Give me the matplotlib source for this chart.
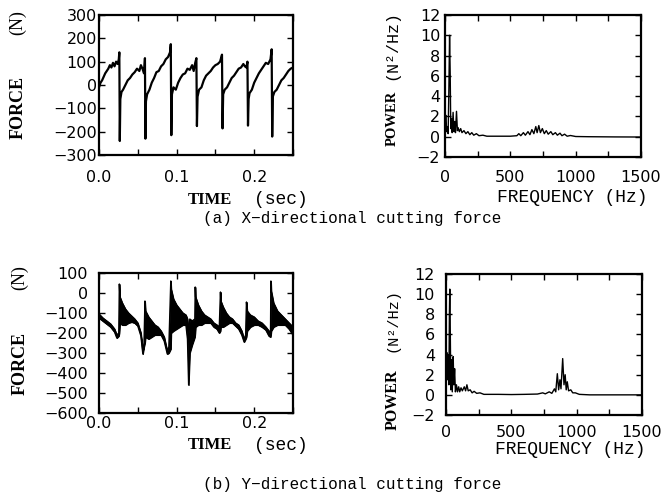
import matplotlib
matplotlib.use("Agg")
import matplotlib.pyplot as plt

# ---- X-directional cutting force (time signal), vertices
time_x = [0.000, 0.002, 0.004, 0.006, 0.008, 0.010, 0.012, 0.014, 0.016, 0.018,
          0.020, 0.022, 0.024, 0.0255, 0.0262, 0.0268, 0.0275, 0.029, 0.031, 0.034,
          0.037, 0.040, 0.043, 0.046, 0.049, 0.052, 0.054, 0.056, 0.058, 0.0592,
          0.0598, 0.0605, 0.062, 0.065, 0.068, 0.071, 0.074, 0.077, 0.080, 0.083,
          0.086, 0.089, 0.0915, 0.0925, 0.0932, 0.094, 0.096, 0.099, 0.102, 0.105,
          0.108, 0.111, 0.114, 0.117, 0.120, 0.122, 0.124, 0.1255, 0.1262, 0.127,
          0.129, 0.132, 0.135, 0.138, 0.141, 0.144, 0.147, 0.150, 0.153, 0.156,
          0.1585, 0.1592, 0.160, 0.162, 0.165, 0.168, 0.171, 0.174, 0.177, 0.180,
          0.183, 0.186, 0.188, 0.190, 0.1913, 0.192, 0.1928, 0.194, 0.197, 0.200,
          0.203, 0.206, 0.209, 0.212, 0.215, 0.218, 0.221, 0.2225, 0.2232, 0.224,
          0.226, 0.229, 0.232, 0.235, 0.238, 0.241, 0.244, 0.247, 0.250]
force_x = [-10, 10, 20, 35, 50, 60, 70, 85, 75, 95,
           80, 100, 90, 110, 140, -240, -60, -30, -20, 0,
           20, 30, 45, 55, 70, 60, 85, 70, 50, 115,
           -230, -70, -40, -20, 10, 30, 55, 60, 80, 90,
           110, 120, 140, 175, -215, -40, -10, -20, 10, 30,
           45, 50, 70, 65, 85, 60, 95, 115, -176, -50,
           -20, -10, 20, 40, 50, 60, 75, 85, 90, 100,
           130, -186, -40, -20, -10, 10, 30, 40, 55, 70,
           75, 90, 80, 75, 100, -174, -60, -35, -20, 10,
           30, 50, 65, 80, 95, 90, 110, 153, -221, -50,
           -30, -20, 0, 20, 30, 45, 60, 70, 75]

# ---- Y-directional cutting force: upper / lower envelope of the signal band
time_y = [0.000, 0.005, 0.010, 0.015, 0.020, 0.023, 0.0255, 0.0262, 0.0270, 0.030,
          0.034, 0.038, 0.042, 0.046, 0.050, 0.054, 0.0565, 0.058, 0.0592, 0.060,
          0.064, 0.068, 0.072, 0.076, 0.080, 0.084, 0.088, 0.090, 0.0925, 0.093,
          0.096, 0.100, 0.104, 0.108, 0.112, 0.114, 0.1155, 0.117, 0.120, 0.1235,
          0.124, 0.1245, 0.128, 0.132, 0.136, 0.140, 0.144, 0.148, 0.152, 0.155,
          0.1565, 0.157, 0.160, 0.164, 0.168, 0.172, 0.176, 0.180, 0.184, 0.187,
          0.189, 0.190, 0.191, 0.195, 0.200, 0.205, 0.210, 0.215, 0.219, 0.221,
          0.2215, 0.222, 0.225, 0.230, 0.235, 0.240, 0.245, 0.250]
force_y_upper = [-105, -125, -140, -155, -180, -210, -200, 45, -20, -50,
                 -80, -100, -115, -130, -150, -200, -290, -250, -40, -90,
                 -120, -140, -160, -170, -190, -220, -290, -270, 60, 20,
                 -30, -60, -80, -100, -110, -130, -200, -130, -140, -130,
                 30, -20, -60, -90, -110, -120, -130, -150, -160, -170,
                 5, -40, -70, -100, -120, -130, -150, -160, -190, -230,
                 -210, -45, -90, -110, -120, -140, -150, -170, -190, -200,
                 60, 10, -50, -90, -110, -130, -150, -170]
force_y_lower = [-125, -140, -155, -170, -195, -225, -215, -200, -150, -160,
                 -160, -150, -145, -150, -165, -215, -305, -270, -250, -220,
                 -230, -220, -210, -210, -210, -240, -305, -300, -280, -200,
                 -190, -180, -170, -160, -160, -230, -460, -300, -260, -220,
                 -200, -170, -160, -160, -150, -150, -150, -170, -180, -200,
                 -190, -170, -170, -160, -150, -150, -165, -180, -210, -245,
                 -230, -220, -190, -170, -160, -160, -170, -185, -215, -220,
                 -210, -190, -170, -160, -160, -160, -180, -210]

# ---- power spectra
freq_x = [0, 3, 8, 12, 18, 24, 30, 35, 40, 44, 50, 55, 62, 68, 75, 80, 88, 95,
          100, 110, 120, 130, 145, 160, 175, 190, 205, 220, 240, 260, 290, 320,
          400, 500, 550, 565, 580, 600, 615, 635, 650, 665, 680, 695, 705, 718,
          730, 745, 760, 775, 790, 810, 825, 845, 860, 880, 895, 915, 935, 960,
          1000, 1100, 1300, 1500]
power_x = [0.3, 2.0, 2.1, 0.5, 1.0, 0.3, 5.0, 10.0, 6.0, 0.8, 1.8, 0.4, 2.4, 0.5,
           1.5, 0.4, 2.5, 0.6, 0.9, 0.5, 0.8, 0.4, 0.6, 0.3, 0.5, 0.2, 0.4, 0.15,
           0.3, 0.1, 0.15, 0.05, 0.05, 0.05, 0.1, 0.3, 0.1, 0.4, 0.15, 0.5, 0.2,
           0.7, 0.3, 1.0, 0.4, 1.1, 0.4, 0.8, 0.3, 0.6, 0.25, 0.5, 0.2, 0.4, 0.15,
           0.35, 0.1, 0.25, 0.05, 0.12, 0.02, 0.0, -0.02, -0.03]

freq_y = [0, 2, 7, 12, 18, 22, 26, 29, 33, 37, 42, 48, 55, 60, 66, 72, 80, 88,
          97, 105, 115, 125, 140, 150, 160, 170, 185, 200, 215, 235, 260, 290,
          400, 500, 600, 700, 740, 760, 790, 810, 830, 840, 852, 862, 872, 880,
          893, 903, 912, 920, 928, 938, 955, 970, 990, 1020, 1100, 1500]
power_y = [0.3, 4.0, 4.2, 1.5, 4.0, 1.0, 8.0, 10.5, 6.0, 0.5, 3.5, 0.3, 3.8, 1.0,
           2.6, 0.3, 1.0, 0.3, 0.8, 0.3, 0.7, 0.4, 0.8, 0.4, 1.0, 0.4, 0.5, 0.2,
           0.35, 0.15, 0.2, 0.05, 0.05, 0.03, 0.05, 0.08, 0.2, 0.1, 0.3, 0.15,
           0.6, 0.3, 2.1, 0.5, 1.5, 0.6, 3.6, 1.0, 2.0, 0.5, 1.3, 0.4, 0.5, 0.2,
           0.2, 0.05, 0.0, 0.0]

time_ticks = [0.0, 0.05, 0.1, 0.15, 0.2, 0.25]
time_labels = ["0.0", "", "0.1", "", "0.2", ""]
freq_ticks = [0, 250, 500, 750, 1000, 1250, 1500]
freq_labels = ["0", "", "500", "", "1000", "", "1500"]
power_ticks = [-2, 0, 2, 4, 6, 8, 10, 12]
fx_ticks = [-300, -200, -100, 0, 100, 200, 300]
fy_ticks = [-600, -500, -400, -300, -200, -100, 0, 100]

W, H = 663, 499
SANS = ["DejaVu Sans"]
SERIF = ["Liberation Serif", "DejaVu Serif"]
MONO = ["Liberation Mono", "DejaVu Sans Mono"]


def rect(l, t, r, b):
    return [l / W, 1 - b / H, (r - l) / W, (b - t) / H]


def minus(vals):
    return [str(v).replace("-", "\u2212") for v in vals]


def style_axes(ax, xpad, ypad):
    for s in ax.spines.values():
        s.set_linewidth(1.6)
    ax.tick_params(direction="in", top=True, right=True, length=4.5, width=1,
                   labelsize=11.5)
    ax.tick_params(axis="x", pad=xpad)
    ax.tick_params(axis="y", pad=ypad)
    for lab in ax.get_xticklabels() + ax.get_yticklabels():
        lab.set_family(SANS)


def ftext(x, y, s, fam, size, **kw):
    fig.text(x / W, 1 - y / H, s, family=fam, fontsize=size, **kw)


fig = plt.figure(figsize=(6.63, 4.99), dpi=100)

# (a) X force vs time
ax1 = fig.add_axes(rect(99, 15, 293, 155))
ax1.plot(time_x, force_x, color="black", lw=1.6)
ax1.set_xlim(0, 0.25)
ax1.set_ylim(-300, 300)
ax1.set_xticks(time_ticks, time_labels)
ax1.set_yticks(fx_ticks, minus(fx_ticks))
style_axes(ax1, 11, 1.5)

# (a) X power spectrum
ax2 = fig.add_axes(rect(445, 15, 641, 157))
ax2.plot(freq_x, power_x, color="black", lw=1.0)
ax2.set_xlim(0, 1500)
ax2.set_ylim(-2, 12)
ax2.set_xticks(freq_ticks, freq_labels)
ax2.set_yticks(power_ticks, minus(power_ticks))
style_axes(ax2, 9, 3.5)

# (b) Y force vs time
ax3 = fig.add_axes(rect(99, 273, 293, 413))
ax3.fill_between(time_y, force_y_lower, force_y_upper, color="black", lw=0.8)
ax3.plot(time_y, force_y_upper, color="black", lw=1.0)
ax3.plot(time_y, force_y_lower, color="black", lw=1.0)
ax3.set_xlim(0, 0.25)
ax3.set_ylim(-600, 100)
ax3.set_xticks(time_ticks, time_labels)
ax3.set_yticks(fy_ticks, minus(fy_ticks))
style_axes(ax3, 2.5, 8)

# (b) Y power spectrum
ax4 = fig.add_axes(rect(446, 274, 642, 415))
ax4.plot(freq_y, power_y, color="black", lw=1.0)
ax4.set_xlim(0, 1500)
ax4.set_ylim(-2, 12)
ax4.set_xticks(freq_ticks, freq_labels)
ax4.set_yticks(power_ticks, minus(power_ticks))
style_axes(ax4, 7.5, 8)

# axis labels (serif words, typewriter units, as in the scan)
bold = dict(ha="center", va="center", weight="bold")
plain = dict(ha="center", va="center")
ftext(210, 200, "TIME", SERIF, 12, **bold)
ftext(281, 200, "(sec)", MONO, 13, **plain)
ftext(210, 445, "TIME", SERIF, 12, **bold)
ftext(281, 445, "(sec)", MONO, 13, **plain)
ftext(572, 198, "FREQUENCY (Hz)", MONO, 13, **plain)
ftext(570, 450, "FREQUENCY (Hz)", MONO, 13, **plain)

ftext(18, 107, "FORCE", SERIF, 13, rotation=90, **bold)
ftext(18, 23, "(N)", SERIF, 13, rotation=90, **plain)
ftext(20, 363, "FORCE", SERIF, 13, rotation=90, **bold)
ftext(20, 278, "(N)", SERIF, 13, rotation=90, **plain)
ftext(392, 118, "POWER", SERIF, 10.5, rotation=90, **bold)
ftext(392, 45, "(N\u00b2/Hz)", MONO, 12, rotation=90, **plain)
ftext(393, 400, "POWER", SERIF, 11.5, rotation=90, **bold)
ftext(393, 320, "(N\u00b2/Hz)", MONO, 11, rotation=90, **plain)

# captions
ftext(352, 218, "(a) X\u2212directional cutting force", MONO, 11.5, **plain)
ftext(352, 484, "(b) Y\u2212directional cutting force", MONO, 11.5, **plain)

fig.savefig("out.png", dpi=100)
